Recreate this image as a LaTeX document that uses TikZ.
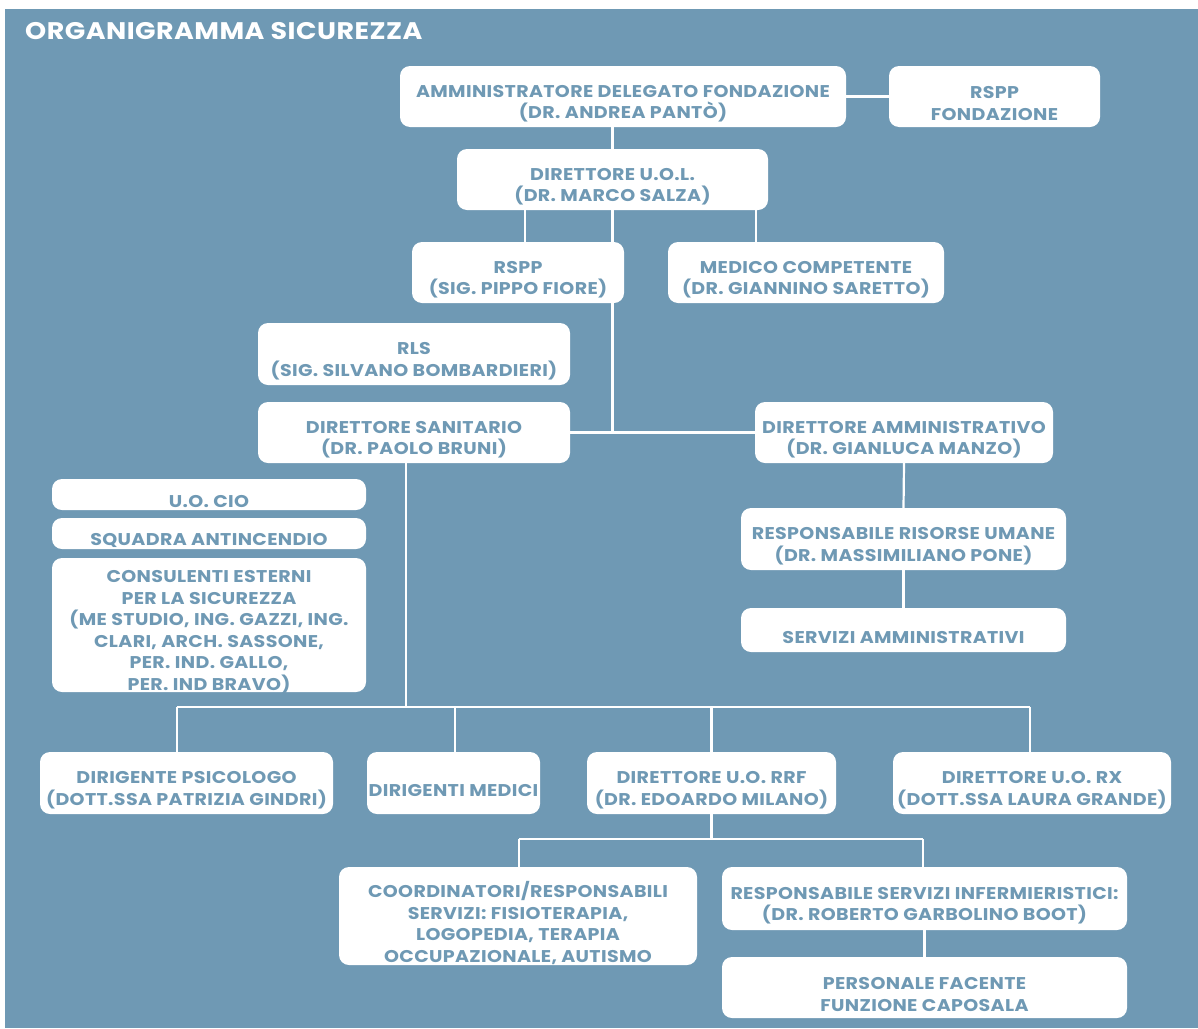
\documentclass[tikz,border=0pt]{standalone}
\usepackage{fontspec}
\setmainfont{Poppins}[FakeStretch=1.12, LetterSpace=2]
\definecolor{bgblue}{HTML}{6F99B4}
\pgfdeclarelayer{bgl}
\pgfdeclarelayer{lines}
\pgfsetlayers{bgl,lines,main}
\tikzset{
  boxshape/.style={fill=white, rounded corners=10pt, inner sep=0pt, draw=none},
  boxtext/.style={text=bgblue, font=\bfseries\fontsize{17}{21.5}\selectfont, align=center, inner sep=0pt},
  conn/.style={draw=white, line width=2.2pt},
  titletext/.style={text=white, font=\bfseries\fontsize{24}{24}\selectfont, inner sep=0pt, anchor=west}
}
\newcommand\orgbox[6]{%
  \node[boxshape, minimum width={#4-#2}, minimum height={#5-#3}] (#1) at ({(#2+#4)/2},{(#3+#5)/2}) {};
  \node[boxtext] (#1t) at ([yshift=-7pt]#1.center) {#6};}
\begin{document}
\begin{tikzpicture}[x=1pt,y=-1pt]
\useasboundingbox (0,0) rectangle (1198,1028);
\begin{pgfonlayer}{bgl}
\fill[white] (0,0) rectangle (1198,1028);
\fill[bgblue] (5,9) rectangle (1198,1028);
\end{pgfonlayer}
\node[titletext] (title) at (25,31) {ORGANIGRAMMA SICUREZZA};

\orgbox{ad}{400}{66}{846}{127}{AMMINISTRATORE DELEGATO FONDAZIONE\\(DR. ANDREA PANTÒ)}
\orgbox{rsppf}{889}{66}{1100}{127}{RSPP\\FONDAZIONE}
\orgbox{uol}{457}{149}{768}{210}{DIRETTORE U.O.L.\\(DR. MARCO SALZA)}
\orgbox{rspp}{412}{242}{624}{303}{RSPP\\(SIG. PIPPO FIORE)}
\orgbox{mc}{668}{242}{944}{303}{MEDICO COMPETENTE\\(DR. GIANNINO SARETTO)}
\orgbox{rls}{258}{323}{570}{385}{RLS\\(SIG. SILVANO BOMBARDIERI)}
\orgbox{ds}{258}{402}{570}{463}{DIRETTORE SANITARIO\\(DR. PAOLO BRUNI)}
\orgbox{da}{755}{402}{1053}{463}{DIRETTORE AMMINISTRATIVO\\(DR. GIANLUCA MANZO)}
\orgbox{cio}{52}{479}{366}{510}{U.O. CIO}
\orgbox{sq}{52}{518}{366}{549}{SQUADRA ANTINCENDIO}
\orgbox{ce}{52}{558}{366}{692}{CONSULENTI ESTERNI\\PER LA SICUREZZA\\(ME STUDIO, ING. GAZZI, ING.\\CLARI, ARCH. SASSONE,\\PER. IND. GALLO,\\PER. IND BRAVO)}
\orgbox{rru}{741}{508}{1066}{570}{RESPONSABILE RISORSE UMANE\\(DR. MASSIMILIANO PONE)}
\orgbox{sa}{741}{608}{1066}{652}{SERVIZI AMMINISTRATIVI}
\orgbox{psi}{40}{752}{333}{814}{DIRIGENTE PSICOLOGO\\(DOTT.SSA PATRIZIA GINDRI)}
\orgbox{med}{367}{752}{540}{814}{DIRIGENTI MEDICI}
\orgbox{rrf}{587}{752}{836}{814}{DIRETTORE U.O. RRF\\(DR. EDOARDO MILANO)}
\orgbox{rx}{893}{752}{1171}{814}{DIRETTORE U.O. RX\\(DOTT.SSA LAURA GRANDE)}
\orgbox{coo}{339}{867}{697}{965}{COORDINATORI/RESPONSABILI\\SERVIZI: FISIOTERAPIA,\\LOGOPEDIA, TERAPIA\\OCCUPAZIONALE, AUTISMO}
\orgbox{rsi}{722}{867}{1127}{930}{RESPONSABILE SERVIZI INFERMIERISTICI:\\(DR. ROBERTO GARBOLINO BOOT)}
\orgbox{pf}{722}{957}{1127}{1018}{PERSONALE FACENTE\\FUNZIONE CAPOSALA}

\coordinate (xr) at (525,226);
\coordinate (xm) at (756,226);
\coordinate (dsx) at (406,707);
\coordinate (busl) at (177,707);
\coordinate (busr) at (1030,707);
\coordinate (medx) at (455,707);
\coordinate (bus2l) at (519,839);
\coordinate (bus2r) at (923,839);

\begin{pgfonlayer}{lines}
\draw[conn] (ad.east) -- (rsppf.west);
\draw[conn] (uol.north) -- (uol.north |- ad.south);
\draw[conn] (xr |- uol.south) -- (xr |- rspp.north);
\draw[conn] (xm |- uol.south) -- (xm |- mc.north);
\draw[conn] (uol.south) -- (uol.south |- ds.east);
\draw[conn] (ds.east) -- (da.west);
\draw[conn] (da.south) -- (rru.north);
\draw[conn] (rru.south) -- (sa.north);
\draw[conn] (dsx |- ds.south) -- (dsx);
\draw[conn] (busl) -- (busr);
\draw[conn] (busl) -- (busl |- psi.north);
\draw[conn] (medx) -- (medx |- med.north);
\draw[conn] (rrf.north |- busl) -- (rrf.north);
\draw[conn] (busr) -- (busr |- rx.north);
\draw[conn] (rrf.south) -- (rrf.south |- bus2l);
\draw[conn] (bus2l) -- (bus2r);
\draw[conn] (bus2l) -- (bus2l |- coo.north);
\draw[conn] (bus2r) -- (bus2r |- rsi.north);
\draw[conn] (rsi.south) -- (pf.north);
\end{pgfonlayer}
\end{tikzpicture}
\end{document}
